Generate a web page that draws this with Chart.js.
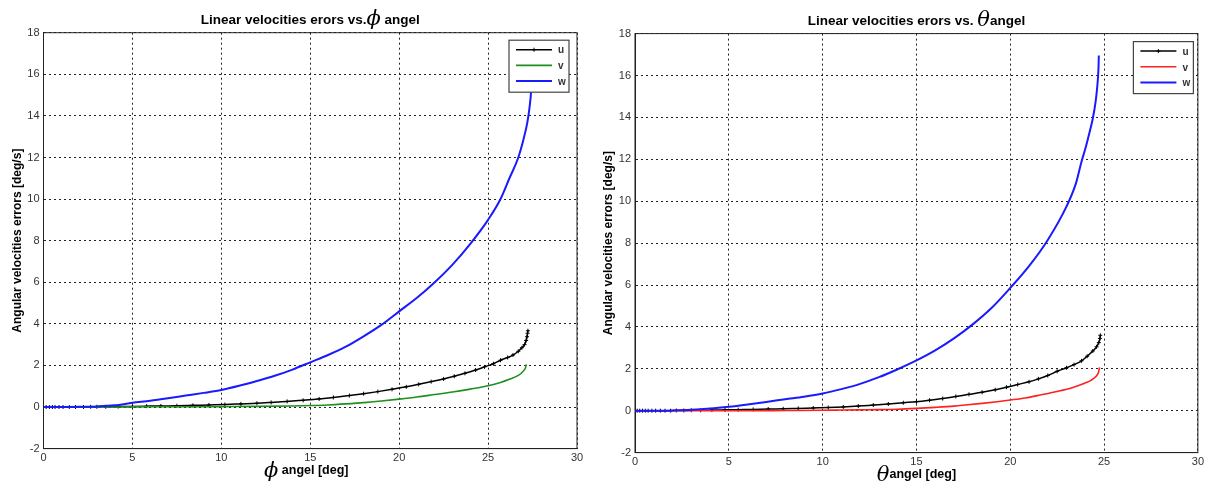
<!DOCTYPE html>
<html>
<head>
<meta charset="utf-8">
<script src="https://cdn.jsdelivr.net/npm/chart.js@4.4.0/dist/chart.umd.min.js"></script>
<style>
  body { margin: 0; background: #fff; }
  #left { position: absolute; left: 0; top: 0; }
  #right { position: absolute; left: 600px; top: 0; }
</style>
</head>
<body>
<canvas id="left" width="600" height="487"></canvas>
<canvas id="right" width="607" height="487"></canvas>
<script>
// ---- phi sweep (left plot) ----
const phiU = [0,0.15,0.33,0.5,0.65,0.87,1.1,1.45,1.8,2.25,2.65,3.0,3.5,4.2,5.0,5.8,6.6,7.5,8.4,9.3,10.2,11.1,12.0,12.8,13.7,14.6,15.5,16.3,17.2,18.0,18.8,19.6,20.4,21.1,21.8,22.5,23.1,23.7,24.3,24.8,25.3,25.7,26.1,26.4,26.7,26.9,27.05,27.14,27.19,27.22,27.24];
const uPhi = [0,0,0,0,0,0,0,0,0,0,0.01,0.01,0.01,0.02,0.03,0.04,0.05,0.06,0.08,0.1,0.12,0.15,0.18,0.22,0.27,0.32,0.39,0.46,0.55,0.64,0.74,0.85,0.97,1.09,1.22,1.35,1.48,1.62,1.78,1.93,2.08,2.25,2.38,2.5,2.68,2.85,3.0,3.2,3.38,3.55,3.67];
const phiV = [0,2,4,6,8,10,12,14,15,16,17,18,19,20,21,22,23,24,25,25.7,26.2,26.7,26.95,27.1,27.15];
const vPhi = [0,0,0,0.01,0.01,0.02,0.03,0.05,0.07,0.1,0.15,0.21,0.29,0.38,0.48,0.6,0.72,0.86,1.02,1.18,1.33,1.52,1.7,1.88,2.05];
const phiW = [0,1,2,3,4,5,6,7,8,9,10,11,12,13,14,15,16,17,18,19,20,21,22,23,24,25,25.7,26.2,26.7,27.0,27.2,27.33,27.42,27.47,27.5];
const wPhi = [0,0,0.01,0.03,0.08,0.2,0.3,0.42,0.55,0.68,0.82,1.02,1.25,1.5,1.8,2.15,2.5,2.9,3.4,3.95,4.6,5.25,6.0,6.85,7.85,9.0,10.0,11.0,12.0,12.9,13.65,14.4,15.2,16.2,17.3];

// ---- theta sweep (right plot) ----
const thU = [0,0.12,0.25,0.4,0.55,0.7,0.9,1.1,1.35,1.6,1.9,2.2,2.6,3.0,3.5,4.1,4.8,5.5,6.3,7.1,7.9,8.7,9.5,10.3,11.1,11.9,12.7,13.5,14.3,15.0,15.7,16.4,17.1,17.8,18.5,19.2,19.8,20.4,21.0,21.5,22.0,22.5,23.0,23.4,23.8,24.1,24.4,24.6,24.72,24.78,24.8];
const uTh = [0,0,0,0,0,0,0,0,0,0,0,0.01,0.01,0.02,0.02,0.03,0.04,0.05,0.06,0.08,0.09,0.11,0.13,0.15,0.18,0.22,0.27,0.32,0.38,0.43,0.5,0.58,0.68,0.78,0.88,1.0,1.12,1.25,1.38,1.52,1.68,1.88,2.05,2.2,2.38,2.6,2.85,3.05,3.25,3.45,3.6];
const thV = [0,2,4,6,8,10,11,12,13,14,15,16,17,17.6,18.5,19.3,20,20.8,21.6,22.5,23.3,23.96,24.3,24.55,24.7,24.76];
const vTh = [0,0,0,0,0.01,0.02,0.03,0.04,0.05,0.07,0.11,0.16,0.22,0.27,0.35,0.43,0.51,0.61,0.75,0.92,1.1,1.31,1.45,1.62,1.82,2.07];
const thW = [0,1,2,3,4,5,6,7,8,9,10,11,12,13,14,15,16,17,18,19,20,21,22,23,23.5,23.8,24.0,24.2,24.4,24.55,24.65,24.7,24.72];
const wTh = [0,0,0.01,0.04,0.1,0.19,0.3,0.42,0.55,0.67,0.82,1.03,1.28,1.6,1.98,2.4,2.88,3.45,4.12,4.9,5.86,6.9,8.15,9.75,10.85,11.9,12.5,13.2,13.95,14.75,15.6,16.3,16.95];

const xTicks = [0, 5, 10, 15, 20, 25, 30];
const yTicks = [-2, 0, 2, 4, 6, 8, 10, 12, 14, 16, 18];
const seriesNames = ['u', 'v', 'w'];

const pts = (xs, ys) => xs.map((x, i) => ({ x: x, y: ys[i] }));

function textRun(ctx, parts, cx, y) {
  let total = 0;
  parts.forEach(p => { ctx.font = p.font; p.w = ctx.measureText(p.text).width; total += p.w; });
  let x = cx - total / 2;
  ctx.textAlign = 'left';
  ctx.textBaseline = 'alphabetic';
  parts.forEach(p => { ctx.font = p.font; ctx.fillText(p.text, x, y + (p.dy || 0)); x += p.w; });
}

const decor = {
  id: 'decor',
  afterDraw(chart, args, o) {
    const { ctx, chartArea: a } = chart;
    ctx.save();
    ctx.setLineDash([]);
    ctx.strokeStyle = '#222';
    ctx.lineWidth = 1;
    ctx.strokeRect(a.left, a.top, a.right - a.left, a.bottom - a.top);

    ctx.fillStyle = '#000';
    const cx = (a.left + a.right) / 2;
    textRun(ctx, o.title, cx, o.titleY);
    textRun(ctx, o.xlabel, cx + o.xlabelDx, o.xlabelY);

    // legend box inside the axes, top right
    const bw = 60, bh = 52;
    const bx = a.right - bw - o.legRight, by = a.top + o.legTop;
    ctx.fillStyle = '#fff';
    ctx.fillRect(bx, by, bw, bh);
    ctx.strokeStyle = '#444';
    ctx.lineWidth = 1.2;
    ctx.strokeRect(bx, by, bw, bh);
    chart.data.datasets.forEach((ds, i) => {
      const yy = by + 9.5 + i * 15.7;
      ctx.strokeStyle = ds.borderColor;
      ctx.lineWidth = ds.borderWidth;
      ctx.beginPath();
      ctx.moveTo(bx + 7, yy);
      ctx.lineTo(bx + 43, yy);
      ctx.stroke();
      if (ds.pointRadius > 0) {
        ctx.lineWidth = 1;
        ctx.beginPath();
        ctx.moveTo(bx + 25, yy - 2); ctx.lineTo(bx + 25, yy + 2);
        ctx.moveTo(bx + 23, yy); ctx.lineTo(bx + 27, yy);
        ctx.stroke();
      }
      ctx.fillStyle = '#333';
      ctx.font = 'bold 10px "Liberation Sans"';
      ctx.textBaseline = 'middle';
      ctx.fillText(ds.label, bx + 49, yy + 1);
    });
    ctx.restore();
  }
};

function makeChart(id, sets, cfg) {
  const tickFont = { family: '"Liberation Sans"', size: 11 };
  return new Chart(document.getElementById(id), {
    type: 'line',
    data: {
      datasets: [
        { label: seriesNames[0], data: sets[0], borderColor: '#000', borderWidth: 1.5,
          pointStyle: 'cross', pointRadius: 2, pointBorderWidth: 1, pointBorderColor: '#000', order: 2 },
        { label: seriesNames[1], data: sets[1], borderColor: cfg.vColor, borderWidth: 1.6,
          pointRadius: 0, order: 1 },
        { label: seriesNames[2], data: sets[2], borderColor: '#1a1aff', borderWidth: 2,
          pointRadius: 0, order: 0 }
      ]
    },
    options: {
      responsive: false,
      animation: false,
      devicePixelRatio: 1,
      cubicInterpolationMode: 'monotone',
      layout: { padding: { left: 0, right: cfg.padRight, top: cfg.padTop, bottom: 0 } },
      plugins: {
        legend: { display: false },
        tooltip: { enabled: false },
        decor: cfg.decor
      },
      scales: {
        x: {
          type: 'linear', min: 0, max: 30,
          afterBuildTicks: s => { s.ticks = xTicks.map(v => ({ value: v })); },
          afterFit: s => { s.height = cfg.xHeight; },
          ticks: { font: tickFont, color: '#333', padding: 3, maxRotation: 0 },
          grid: { color: '#222', lineWidth: 1, drawTicks: false },
          border: { display: true, color: '#222', dash: [2, 3] }
        },
        y: {
          type: 'linear', min: -2, max: 18,
          afterBuildTicks: s => { s.ticks = yTicks.map(v => ({ value: v })); },
          afterFit: s => { s.width = cfg.yWidth; },
          ticks: { font: tickFont, color: '#333', padding: 4 },
          grid: { color: '#222', lineWidth: 1, drawTicks: false },
          border: { display: true, color: '#222', dash: [2, 3] },
          title: {
            display: true, text: 'Angular velocities errors [deg/s]', color: '#000',
            font: { family: '"Liberation Sans"', size: 12, weight: 'bold' },
            padding: { top: cfg.yTitlePad, bottom: 0 }
          }
        }
      }
    },
    plugins: [decor]
  });
}

const bold = 'bold 13.5px "Liberation Sans"';
const xbold = 'bold 12.5px "Liberation Sans"';
const greek = 'italic 21px "DejaVu Serif"';

makeChart('left', [pts(phiU, uPhi), pts(phiV, vPhi), pts(phiW, wPhi)], {
  vColor: '#1f8f1f', padRight: 23, padTop: 32.7, xHeight: 38.4, yWidth: 43.5, yTitlePad: 10,
  decor: {
    title: [{ text: 'Linear velocities erors vs.', font: bold }, { text: 'ϕ', font: greek, dy: 1 }, { text: ' angel', font: bold }],
    titleY: 24,
    xlabel: [{ text: 'ϕ', font: greek, dy: 3 }, { text: ' angel [deg]', font: xbold }],
    xlabelDx: -4,
    xlabelY: 474,
    legRight: 8, legTop: 7.5
  }
});

makeChart('right', [pts(thU, uTh), pts(thV, vTh), pts(thW, wTh)], {
  vColor: '#ff2020', padRight: 6.5, padTop: 33.6, xHeight: 34.4, yWidth: 35, yTitlePad: 1,
  decor: {
    title: [{ text: 'Linear velocities erors vs. ', font: bold }, { text: 'θ', font: greek, dy: 1 }, { text: 'angel', font: bold }],
    titleY: 25,
    xlabel: [{ text: 'θ', font: greek, dy: 3 }, { text: 'angel [deg]', font: xbold }],
    xlabelDx: 0,
    xlabelY: 478,
    legRight: 4.5, legTop: 8
  }
});
</script>
</body>
</html>
